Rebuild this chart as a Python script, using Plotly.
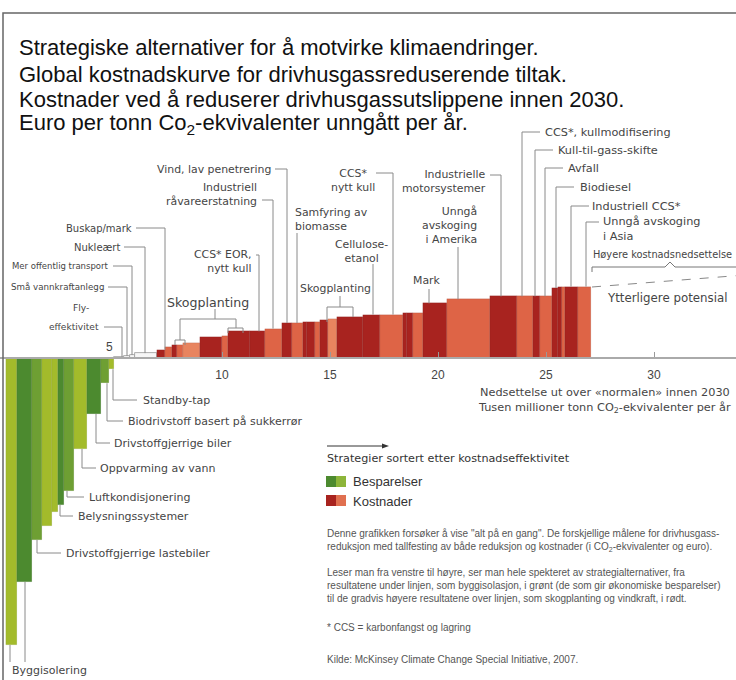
import plotly.graph_objects as go

# ---------------- data ----------------
saving_names = ["Byggisolering (næring)", "Byggisolering (bolig)", "Drivstoffgjerrige lastebiler",
                "Bygg 2", "Bygg 3", "Belysningssystemer", "Luftkondisjonering",
                "Oppvarming av vann", "Drivstoffgjerrige biler",
                "Biodrivstoff basert på sukkerrør", "Standby-tap"]
saving_widths = [0.5, 0.7, 0.45, 0.5, 0.25, 0.3, 0.45, 0.6, 0.65, 0.35, 0.25]
saving_values = [-205, -160, -130, -120, -110, -105, -95, -65, -40, -18, -8]

neutral_names = ["Fly-effektivitet", "Små vannkraftanlegg", "Mer offentlig transport", "Nukleært"]
neutral_widths = [0.45, 0.3, 0.2, 1.05]
neutral_values = [0.8, 1.5, 2.2, 3.5]

cost_widths = [0.37, 0.32, 0.23, 0.28, 0.79, 1.02, 0.28, 1.02, 0.69, 0.79,
               0.46, 0.51, 0.19, 0.37, 0.23, 0.37, 0.42, 1.20, 0.79, 1.06,
               0.19, 0.28, 0.46, 1.11, 1.99, 1.25, 0.74, 0.32, 0.56, 0.28,
               0.19, 0.14, 0.60, 0.60]
cost_values = [6, 8, 9, 9, 11, 15, 16, 19, 19, 21,
               25, 25, 26, 26, 26, 27, 28, 29, 31, 31,
               32, 32, 32, 39, 42, 44, 44, 44, 44, 50,
               51, 51, 51, 51]

tick_values = [10, 15, 20, 25, 30]
tick_labels = ["10", "15", "20", "25", "30"]

# ---------------- style ----------------
W, H = 736, 680
PX0, PXU, BASE, PYU = 6.0, 21.6, 358.0, 1.4
FONT = "Liberation Sans, Arial, sans-serif"
LFONT = "DejaVu Sans, Verdana, sans-serif"
GREEN = {"L": "#A3BB2B", "M": "#6E9F33", "D": "#4C8A2F"}
RED = {"D": "#A8231F", "O": "#DE6446", "L": "#E8845F"}
green_shade = "LDMLLDMLDML"
red_shade = "DODOL" "DODDO" "DODDO" "DLDDO" "DDODO" "DODOD" "DODO"
LEAD = "#8a8a8a"
TXT = "#454545"


def dx(px):
    return (px - PX0) / PXU


def dy(py):
    return (BASE - py) / PYU


def spans(widths, start):
    s, out = start, []
    for w in widths:
        out.append((s, s + w))
        s += w
    return out, s


sav_sp, end_s = spans(saving_widths, 0.0)
neu_sp, end_n = spans(neutral_widths, end_s)
cost_sp, end_c = spans(cost_widths, end_n)

all_spans = sav_sp + neu_sp + cost_sp
all_vals = saving_values + neutral_values + cost_values


def bar_value_at(xd):
    for (a, b), v in zip(all_spans, all_vals):
        if a <= xd < b:
            return v
    return 0


fig = go.Figure()
fig.add_trace(go.Bar(x=[(a + b) / 2 for a, b in sav_sp], y=saving_values,
                     width=saving_widths, base=0,
                     marker=dict(color=[GREEN[c] for c in green_shade],
                                 line=dict(width=0.4, color="rgba(0,0,0,0.15)")),
                     name="Besparelser", hovertext=saving_names, showlegend=False))
fig.add_trace(go.Bar(x=[(a + b) / 2 for a, b in neu_sp], y=neutral_values,
                     width=neutral_widths, base=0,
                     marker=dict(color="#f6f6f6", line=dict(width=0.8, color="#999")),
                     hovertext=neutral_names, showlegend=False))
fig.add_trace(go.Bar(x=[(a + b) / 2 for a, b in cost_sp], y=cost_values,
                     width=cost_widths, base=0,
                     marker=dict(color=[RED[c] for c in red_shade],
                                 line=dict(width=0.4, color="rgba(60,0,0,0.25)")),
                     name="Kostnader", showlegend=False))

shapes = []
annos = []


def seg(p1, p2, color=LEAD, width=1, dash=None):
    shapes.append(dict(type="line", xref="x", yref="y",
                       x0=dx(p1[0]), y0=dy(p1[1]), x1=dx(p2[0]), y1=dy(p2[1]),
                       line=dict(color=color, width=width, dash=dash)))


def leader(pts):
    """polyline of px points; a last vertical runs to the bar edge at the last x"""
    for p, q in zip(pts[:-1], pts[1:]):
        seg(p, q)
    lx, ly = pts[-1]
    v = bar_value_at(dx(lx))
    shapes.append(dict(type="line", xref="x", yref="y",
                       x0=dx(lx), y0=dy(ly), x1=dx(lx), y1=v,
                       line=dict(color=LEAD, width=1)))


def text(t, px, py, xanchor="left", size=10.9, color=TXT, font=LFONT):
    al = "center" if xanchor == "center" else xanchor
    annos.append(dict(text=t, x=dx(px), y=dy(py), xref="x", yref="y",
                      xanchor=xanchor, yanchor="middle", showarrow=False, align=al,
                      borderpad=0, font=dict(family=font, size=size, color=color)))


# left small labels
text("Buskap/mark", 133, 228, "right", 10); leader([(136, 228), (165, 228)])
text("Nukleært", 121, 247, "right", 10); leader([(124, 247), (145, 247)])
text("Mer offentlig transport", 110, 266, "right", 8.5); leader([(113, 266), (132, 266)])
text("Små vannkraftanlegg", 105, 287, "right", 8.7); leader([(108, 287), (127, 287)])
text("Fly-", 81, 308, "center", 9.1)
text("effektivitet", 100, 327, "right", 9.1); leader([(104, 327), (122, 327)])

# upper labels
U = 10.9
text("Vind, lav penetrering", 272, 169, "right", U); leader([(275, 169), (287, 169)])
text("Industriell<br>råvareerstatning", 258, 194, "right", U); leader([(262, 200), (273, 200)])
text("CCS* EOR,<br>nytt kull", 253, 261, "right", U); leader([(256, 255), (259, 255)])
text("Samfyring av<br>biomasse", 294, 219, "left", U); leader([(297, 233)])
text("CCS*<br>nytt kull", 353, 180, "center", U); leader([(376, 173), (393, 173)])
text("Cellulose-<br>etanol", 361, 251, "center", U); leader([(373, 264)])
text("Industrielle<br>motorsystemer", 487, 181, "right", U); leader([(490, 175), (501, 175)])
text("Unngå<br>avskoging<br>i Amerika", 478, 225, "right", U); leader([(458, 247)])
text("Mark", 427, 280, "center", U); leader([(429, 289)])
text("Skogplanting", 208, 302, "center", 12.6)
text("Skogplanting", 335, 288, "center", U)

# right labels
R = 11.3
text("CCS*, kullmodifisering", 544, 132, "left", R); leader([(540, 132), (522, 132)])
text("Kull-til-gass-skifte", 557, 150, "left", R); leader([(553, 150), (535, 150)])
text("Avfall", 567, 168, "left", R); leader([(563, 168), (545, 168)])
text("Biodiesel", 579, 187, "left", R); leader([(574, 187), (556, 187)])
text("Industriell CCS*", 591, 206, "left", R); leader([(589, 206), (571, 206)])
text("Unngå avskoging<br>i Asia", 602, 229, "left", R); leader([(599, 222), (586, 222)])

# green labels
G = 11
text("Standby-tap", 142, 400, "left", G); leader([(137, 400), (113, 400)])
text("Biodrivstoff basert på sukkerrør", 127, 421, "left", G); leader([(123, 421), (107, 421)])
text("Drivstoffgjerrige biler", 113, 443, "left", G); leader([(110, 443), (96, 443)])
text("Oppvarming av vann", 99, 468, "left", G); leader([(96, 468), (82, 468)])
text("Luftkondisjonering", 88, 497, "left", G); leader([(84, 497), (67, 497)])
text("Belysningssystemer", 77, 516, "left", G); leader([(73, 516), (60, 516)])
text("Drivstoffgjerrige lastebiler", 65, 553, "left", G); leader([(61, 553), (37, 553)])
text("Byggisolering", 11, 670, "left", G); leader([(10, 662)]); leader([(25, 662)])

# brackets for Skogplanting
for p, q in [((215, 309), (215, 319)), ((180, 319), (236, 319)), ((180, 319), (180, 340)),
             ((175, 340), (185, 340)), ((175, 340), (175, 345)), ((185, 340), (185, 345)),
             ((236, 319), (236, 328)), ((228, 328), (243, 328)), ((228, 328), (228, 333)),
             ((243, 328), (243, 333)),
             ((340, 296), (340, 307)), ((327, 307), (353, 307)), ((327, 307), (327, 322)),
             ((353, 307), (353, 317))]:
    seg(p, q)

# higher cost brace and dashed potential line
for p, q in [((592, 272), (592, 267)), ((592, 267), (665, 267)), ((665, 267), (670, 262)),
             ((670, 262), (675, 267)), ((675, 267), (745, 267))]:
    seg(p, q, color="#777")
seg((592, 287), (745, 275), color="#888", dash="dash")
text("Høyere kostnadsnedsettelse", 592, 254, "left", 9.8)
text("Ytterligere potensial", 667, 298, "center", 11.8)

# axis extras
text("5", 114, 347, "right", 12, color="#444", font=FONT)
text("Nedsettelse ut over «normalen» innen 2030", 479, 392, "left", 11.3)
text("Tusen millioner tonn CO<sub>2</sub>-ekvivalenter per år", 477, 408, "left", 11.3)


def ptext(t, px, py, size, color="#111", font=FONT):
    annos.append(dict(text=t, x=px / W, y=1 - py / H, xref="paper", yref="paper",
                      xanchor="left", yanchor="middle", showarrow=False, align="left",
                      borderpad=0, font=dict(family=font, size=size, color=color)))


# title
TS = 22
ptext("Strategiske alternativer for å motvirke klimaendringer.", 18, 48, TS)
ptext("Global kostnadskurve for drivhusgassreduserende tiltak.", 18, 74, TS)
ptext("Kostnader ved å reduserer drivhusgassutslippene innen 2030.", 18, 99, TS)
ptext("Euro per tonn Co<sub>2</sub>-ekvivalenter unngått per år.", 18, 124, TS)

# legend block: arrow drawn as line + head
shapes.append(dict(type="line", xref="paper", yref="paper", x0=327 / W, x1=384 / W,
                   y0=1 - 446 / H, y1=1 - 446 / H, line=dict(color="#333", width=1)))
shapes.append(dict(type="path", xref="paper", yref="paper",
                   path="M %f %f L %f %f L %f %f Z" % (382 / W, 1 - 443.5 / H, 389 / W, 1 - 446 / H,
                                                       382 / W, 1 - 448.5 / H),
                   fillcolor="#333", line=dict(width=0)))
ptext("Strategier sortert etter kostnadseffektivitet", 326, 458, 11.2, "#333", LFONT)
for (y0, y1, cl, cr, lab, ty) in [(476, 487, "#4C8A2F", "#8DB53A", "Besparelser", 481),
                                  (495, 506, "#A8231F", "#E07050", "Kostnader", 501)]:
    shapes.append(dict(type="rect", xref="paper", yref="paper", x0=326 / W, x1=336 / W,
                       y0=1 - y1 / H, y1=1 - y0 / H, fillcolor=cl, line=dict(width=0)))
    shapes.append(dict(type="rect", xref="paper", yref="paper", x0=336 / W, x1=346 / W,
                       y0=1 - y1 / H, y1=1 - y0 / H, fillcolor=cr, line=dict(width=0)))
    ptext(lab, 352, ty, 13, "#333")

P = 10
PC = "#555"
ptext("Denne grafikken forsøker å vise \"alt på en gang\". De forskjellige målene for drivhusgass-", 326, 533, P, PC)
ptext("reduksjon med tallfesting av både reduksjon og kostnader (i CO<sub>2</sub>-ekvivalenter og euro).", 326, 547, P, PC)
ptext("Leser man fra venstre til høyre, ser man hele spekteret av strategialternativer, fra", 326, 572, P, PC)
ptext("resultatene under linjen, som byggisolasjon, i grønt (de som gir økonomiske besparelser)", 326, 585, P, PC)
ptext("til de gradvis høyere resultatene over linjen, som skogplanting og vindkraft, i rødt.", 326, 598, P, PC)
ptext("* CCS = karbonfangst og lagring", 326, 627, P, PC)
ptext("Kilde: McKinsey Climate Change Special Initiative, 2007.", 326, 659, P, PC)

# frame
shapes.append(dict(type="rect", xref="paper", yref="paper", x0=3 / W, x1=1.05,
                   y0=-0.05, y1=1 - 13 / H, line=dict(color="#666", width=1.5),
                   fillcolor="rgba(0,0,0,0)"))

fig.update_layout(
    width=W, height=H, autosize=False,
    margin=dict(l=0, r=0, t=0, b=0, pad=0),
    paper_bgcolor="white", plot_bgcolor="white",
    barmode="overlay", bargap=0, showlegend=False,
    shapes=shapes, annotations=annos,
    xaxis=dict(range=[dx(0), dx(W)], tickvals=tick_values, ticktext=tick_labels,
               anchor="free", position=1 - BASE / H, showgrid=False, zeroline=False,
               showline=True, linecolor="#aaaaaa", linewidth=1.5,
               ticks="inside", ticklen=5, tickcolor="#999", tickwidth=1,
               ticklabelstandoff=6,
               tickfont=dict(family=FONT, size=12, color="#444"), fixedrange=True),
    yaxis=dict(range=[dy(H), dy(0)], visible=False, fixedrange=True),
)

fig.write_html("out.html", config={"displayModeBar": False},
               post_script="document.body.style.margin='0px';document.body.style.overflow='hidden';")
